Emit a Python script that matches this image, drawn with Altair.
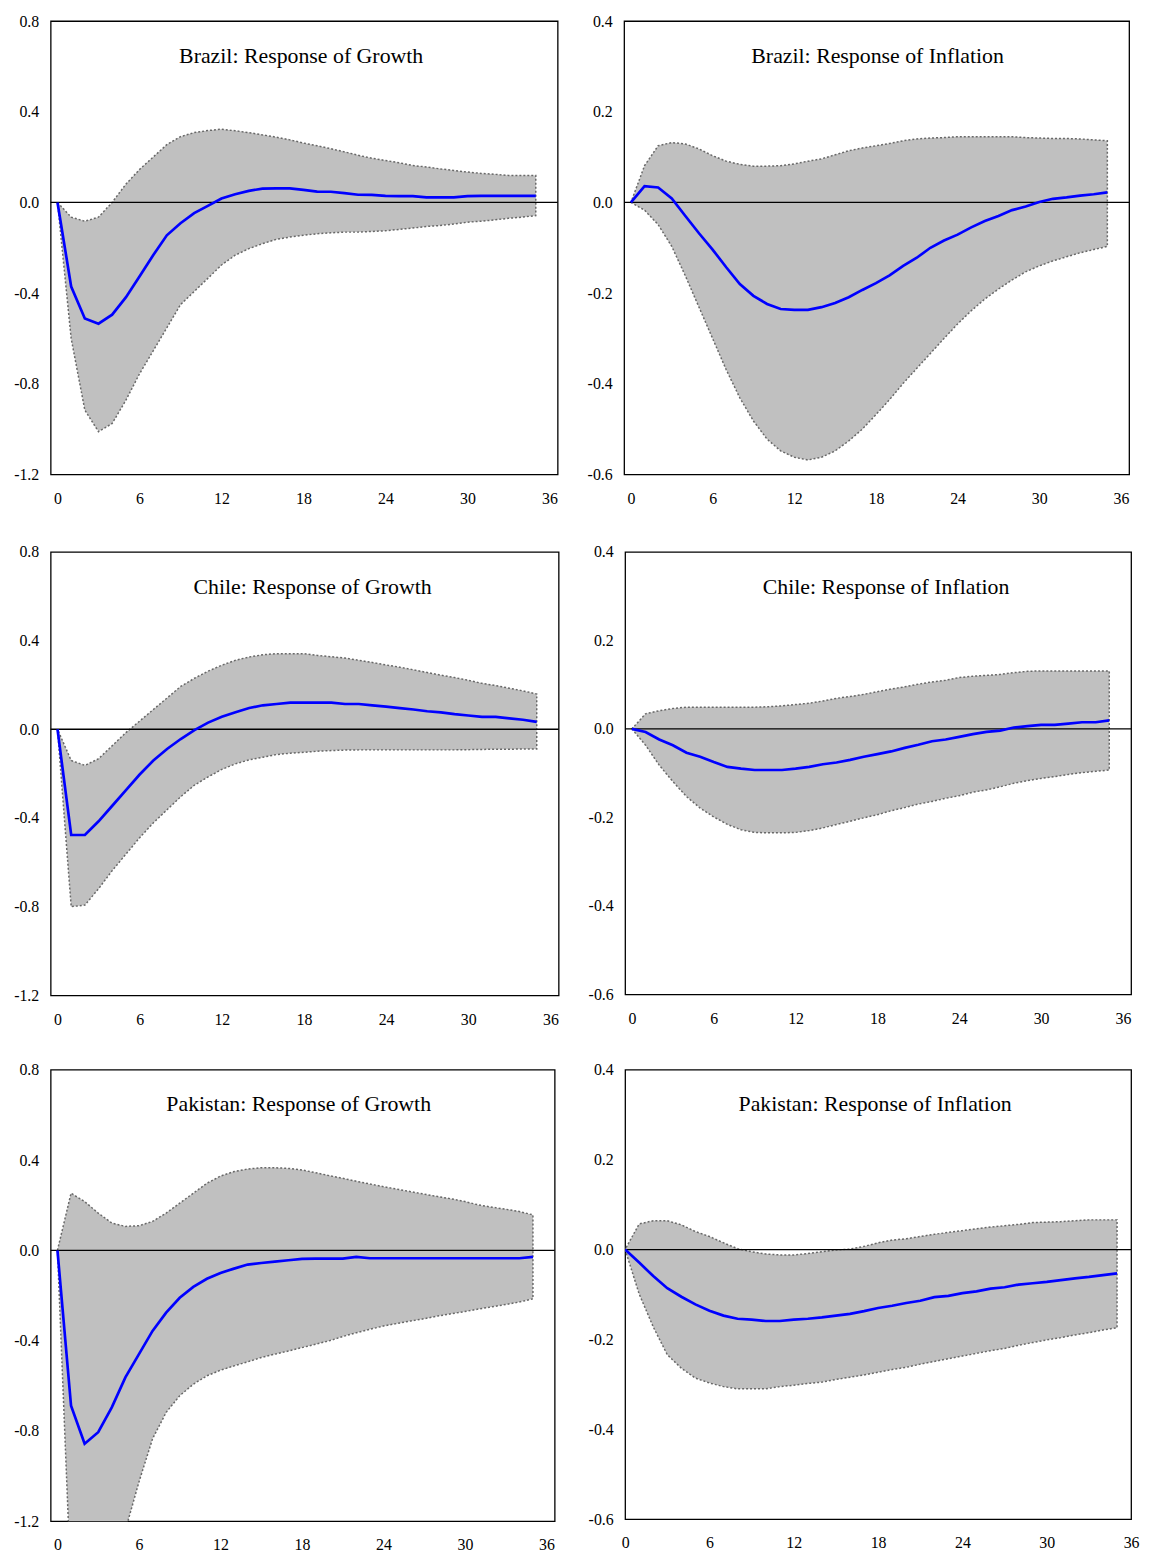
import altair as alt
import pandas as pd

FONT = "Liberation Serif"

horizon = list(range(36))
x_ticks = [0, 6, 12, 18, 24, 30, 36]
growth_ticks = [0.8, 0.4, 0.0, -0.4, -0.8, -1.2]
infl_ticks = [0.4, 0.2, 0.0, -0.2, -0.4, -0.6]

titles = [
    "Brazil: Response of Growth", "Brazil: Response of Inflation",
    "Chile: Response of Growth", "Chile: Response of Inflation",
    "Pakistan: Response of Growth", "Pakistan: Response of Inflation",
]

brazil_growth_irf = [0.0, -0.371, -0.512, -0.535, -0.495, -0.419, -0.327, -0.233, -0.145, -0.092,
                     -0.047, -0.015, 0.017, 0.036, 0.051, 0.061, 0.062, 0.062, 0.055, 0.048,
                     0.047, 0.041, 0.034, 0.033, 0.029, 0.028, 0.028, 0.022, 0.022, 0.022,
                     0.028, 0.029, 0.029, 0.029, 0.029, 0.029]
brazil_growth_lower = [0.0, -0.60, -0.916, -1.011, -0.975, -0.873, -0.756, -0.655, -0.553, -0.451,
                       -0.393, -0.335, -0.276, -0.233, -0.204, -0.182, -0.163, -0.153, -0.145, -0.138,
                       -0.134, -0.131, -0.131, -0.128, -0.125, -0.119, -0.113, -0.106, -0.102, -0.095,
                       -0.087, -0.083, -0.077, -0.070, -0.065, -0.058]
brazil_growth_upper = [0.0, -0.065, -0.083, -0.065, 0.0, 0.08, 0.145, 0.20, 0.255, 0.29,
                       0.308, 0.317, 0.323, 0.316, 0.308, 0.298, 0.288, 0.276, 0.262, 0.25,
                       0.237, 0.223, 0.208, 0.195, 0.185, 0.175, 0.163, 0.156, 0.148, 0.141,
                       0.134, 0.128, 0.124, 0.119, 0.119, 0.119]

brazil_infl_irf = [0.0, 0.036, 0.033, 0.009, -0.030, -0.068, -0.104, -0.143, -0.180, -0.206,
                   -0.224, -0.235, -0.237, -0.237, -0.231, -0.222, -0.209, -0.193, -0.178, -0.161,
                   -0.140, -0.122, -0.100, -0.084, -0.071, -0.055, -0.041, -0.030, -0.017, -0.009,
                   0.001, 0.008, 0.011, 0.015, 0.018, 0.022]
brazil_infl_lower = [0.0, -0.017, -0.049, -0.097, -0.162, -0.231, -0.300, -0.369, -0.431, -0.482,
                     -0.522, -0.548, -0.562, -0.568, -0.562, -0.548, -0.526, -0.500, -0.468, -0.435,
                     -0.399, -0.366, -0.333, -0.300, -0.268, -0.239, -0.213, -0.191, -0.171, -0.153,
                     -0.140, -0.129, -0.120, -0.111, -0.104, -0.097]
brazil_infl_upper = [0.0, 0.081, 0.125, 0.132, 0.129, 0.118, 0.103, 0.091, 0.084, 0.080,
                     0.080, 0.081, 0.085, 0.091, 0.096, 0.105, 0.114, 0.120, 0.125, 0.130,
                     0.136, 0.140, 0.142, 0.143, 0.145, 0.145, 0.145, 0.145, 0.145, 0.143,
                     0.142, 0.141, 0.141, 0.140, 0.138, 0.136]

chile_growth_irf = [0.0, -0.477, -0.477, -0.415, -0.345, -0.274, -0.204, -0.141, -0.089, -0.044,
                    -0.004, 0.030, 0.056, 0.077, 0.096, 0.108, 0.114, 0.120, 0.120, 0.120,
                    0.120, 0.114, 0.114, 0.108, 0.102, 0.095, 0.089, 0.081, 0.076, 0.068,
                    0.062, 0.056, 0.056, 0.049, 0.043, 0.033]
chile_growth_lower = [0.0, -0.800, -0.793, -0.719, -0.637, -0.563, -0.489, -0.422, -0.363, -0.304,
                      -0.252, -0.215, -0.181, -0.156, -0.138, -0.126, -0.114, -0.108, -0.104, -0.099,
                      -0.096, -0.094, -0.093, -0.093, -0.093, -0.093, -0.093, -0.093, -0.093, -0.093,
                      -0.092, -0.091, -0.090, -0.090, -0.089, -0.089]
chile_growth_upper = [0.0, -0.141, -0.163, -0.133, -0.074, -0.015, 0.037, 0.089, 0.141, 0.193,
                      0.230, 0.262, 0.289, 0.311, 0.326, 0.336, 0.341, 0.341, 0.341, 0.333,
                      0.327, 0.321, 0.311, 0.301, 0.290, 0.280, 0.268, 0.256, 0.244, 0.233,
                      0.221, 0.207, 0.197, 0.185, 0.173, 0.159]

chile_infl_irf = [0.0, -0.007, -0.024, -0.037, -0.054, -0.063, -0.075, -0.086, -0.090, -0.093,
                  -0.093, -0.093, -0.090, -0.086, -0.080, -0.076, -0.070, -0.063, -0.057, -0.051,
                  -0.043, -0.036, -0.028, -0.024, -0.018, -0.012, -0.007, -0.004, 0.003, 0.006,
                  0.009, 0.009, 0.012, 0.015, 0.015, 0.019]
chile_infl_lower = [0.0, -0.037, -0.082, -0.119, -0.153, -0.179, -0.199, -0.216, -0.228, -0.234,
                    -0.235, -0.235, -0.234, -0.230, -0.224, -0.216, -0.209, -0.201, -0.194, -0.185,
                    -0.178, -0.170, -0.164, -0.157, -0.151, -0.143, -0.138, -0.131, -0.123, -0.117,
                    -0.112, -0.108, -0.103, -0.099, -0.096, -0.093]
chile_infl_upper = [0.0, 0.034, 0.041, 0.046, 0.049, 0.049, 0.049, 0.049, 0.049, 0.049,
                    0.050, 0.052, 0.055, 0.058, 0.063, 0.069, 0.073, 0.078, 0.084, 0.090,
                    0.095, 0.101, 0.106, 0.110, 0.116, 0.119, 0.121, 0.123, 0.127, 0.130,
                    0.131, 0.131, 0.131, 0.131, 0.131, 0.131]

pak_growth_irf = [0.0, -0.688, -0.857, -0.806, -0.696, -0.563, -0.460, -0.357, -0.276, -0.210,
                  -0.162, -0.126, -0.100, -0.081, -0.063, -0.056, -0.050, -0.044, -0.038, -0.037,
                  -0.037, -0.037, -0.029, -0.035, -0.035, -0.035, -0.035, -0.035, -0.035, -0.035,
                  -0.035, -0.035, -0.035, -0.035, -0.035, -0.029]
pak_growth_lower = [0.0, -1.50, -1.75, -1.70, -1.50, -1.24, -1.026, -0.835, -0.718, -0.644,
                    -0.593, -0.556, -0.531, -0.512, -0.494, -0.475, -0.460, -0.446, -0.431, -0.416,
                    -0.401, -0.382, -0.365, -0.350, -0.335, -0.324, -0.313, -0.303, -0.291, -0.281,
                    -0.271, -0.260, -0.250, -0.240, -0.229, -0.215]
pak_growth_upper = [0.0, 0.253, 0.216, 0.165, 0.121, 0.106, 0.109, 0.128, 0.165, 0.209,
                    0.253, 0.297, 0.329, 0.349, 0.360, 0.366, 0.366, 0.363, 0.356, 0.344,
                    0.331, 0.319, 0.306, 0.294, 0.282, 0.271, 0.260, 0.249, 0.238, 0.228,
                    0.216, 0.201, 0.191, 0.182, 0.172, 0.157]

pak_infl_irf = [0.0, -0.029, -0.059, -0.086, -0.105, -0.122, -0.136, -0.147, -0.154, -0.156,
                -0.159, -0.159, -0.156, -0.154, -0.151, -0.147, -0.143, -0.137, -0.130, -0.125,
                -0.119, -0.114, -0.106, -0.103, -0.097, -0.093, -0.087, -0.084, -0.078, -0.075,
                -0.072, -0.068, -0.064, -0.061, -0.057, -0.053]
pak_infl_lower = [0.0, -0.099, -0.172, -0.234, -0.264, -0.286, -0.297, -0.305, -0.310, -0.310,
                  -0.310, -0.305, -0.302, -0.298, -0.295, -0.289, -0.284, -0.279, -0.273, -0.267,
                  -0.262, -0.255, -0.249, -0.243, -0.237, -0.231, -0.225, -0.220, -0.213, -0.207,
                  -0.201, -0.196, -0.190, -0.185, -0.179, -0.174]
pak_infl_upper = [0.0, 0.057, 0.064, 0.064, 0.055, 0.040, 0.029, 0.015, 0.002, -0.005,
                  -0.010, -0.012, -0.012, -0.009, -0.005, -0.001, 0.001, 0.007, 0.015, 0.021,
                  0.024, 0.029, 0.034, 0.038, 0.042, 0.046, 0.050, 0.053, 0.056, 0.060,
                  0.061, 0.062, 0.064, 0.066, 0.066, 0.066]

LABEL_EXPR = "replace(format(datum.value, '.1f'), '\u2212', '-')"


def panel(title, irf, lower, upper, yticks, xdom, w, h, title_dx):
    df = pd.DataFrame({"t": horizon, "irf": irf, "lo": lower, "hi": upper})
    xscale = alt.Scale(domain=xdom, nice=False, zero=False)
    yscale = alt.Scale(domain=[min(yticks), max(yticks)], nice=False, zero=False)
    xaxis = alt.Axis(values=x_ticks, title=None, grid=False, domain=False, ticks=False,
                     tickSize=0, labelPadding=16, labelFlush=False, format="d",
                     labelFont=FONT, labelFontSize=16, labelColor="black")
    yaxis = alt.Axis(values=yticks, title=None, grid=False, domain=False, ticks=False,
                     tickSize=0, labelPadding=12, labelExpr=LABEL_EXPR,
                     labelFont=FONT, labelFontSize=16, labelColor="black")
    band = alt.Chart(df).mark_area(
        fill="#c0c0c0", stroke="#686868", strokeDash=[2, 2], strokeWidth=1.5, clip=True
    ).encode(
        x=alt.X("t:Q", scale=xscale, axis=xaxis),
        y=alt.Y("lo:Q", scale=yscale, axis=yaxis),
        y2="hi:Q",
    )
    zero = alt.Chart(pd.DataFrame({"z": [0.0]})).mark_rule(
        color="black", strokeWidth=1.3
    ).encode(y="z:Q")
    line = alt.Chart(df).mark_line(color="#0000ff", strokeWidth=2.7, clip=True).encode(
        x="t:Q", y="irf:Q"
    )
    txt = alt.Chart(pd.DataFrame({"label": [title]})).mark_text(
        font=FONT, fontSize=22, baseline="alphabetic", align="center", color="black"
    ).encode(x=alt.value(w / 2 + title_dx), y=alt.value(42), text="label:N")
    return alt.layer(band, zero, line, txt).properties(width=w, height=h)


p1 = panel(titles[0], brazil_growth_irf, brazil_growth_lower, brazil_growth_upper,
           growth_ticks, [-0.5, 36.6], 511, 457, -3)
p2 = panel(titles[1], brazil_infl_irf, brazil_infl_lower, brazil_infl_upper,
           infl_ticks, [-0.5, 36.6], 509, 457, 1)
p3 = panel(titles[2], chile_growth_irf, chile_growth_lower, chile_growth_upper,
           growth_ticks, [-0.5, 36.6], 512, 447, 8)
p4 = panel(titles[3], chile_infl_irf, chile_infl_lower, chile_infl_upper,
           infl_ticks, [-0.5, 36.6], 510, 446, 8)
p5 = panel(titles[4], pak_growth_irf, pak_growth_lower, pak_growth_upper,
           growth_ticks, [-0.5, 36.6], 508, 455, -4)
p6 = panel(titles[5], pak_infl_irf, pak_infl_lower, pak_infl_upper,
           infl_ticks, [0, 36], 510, 453, -3)

top_rows = alt.vconcat(
    alt.hconcat(p1, p2, spacing=27),
    alt.hconcat(p3, p4, spacing=27),
    spacing=36,
)
chart = alt.vconcat(
    top_rows,
    alt.hconcat(p5, p6, spacing=31),
    spacing=33,
).properties(
    padding={"left": 5, "top": -2, "right": 5, "bottom": 5}
).configure(
    font=FONT
).configure_view(
    stroke="black", strokeWidth=1.3
)

chart.save("out.html", embed_options={"renderer": "svg", "actions": False})
